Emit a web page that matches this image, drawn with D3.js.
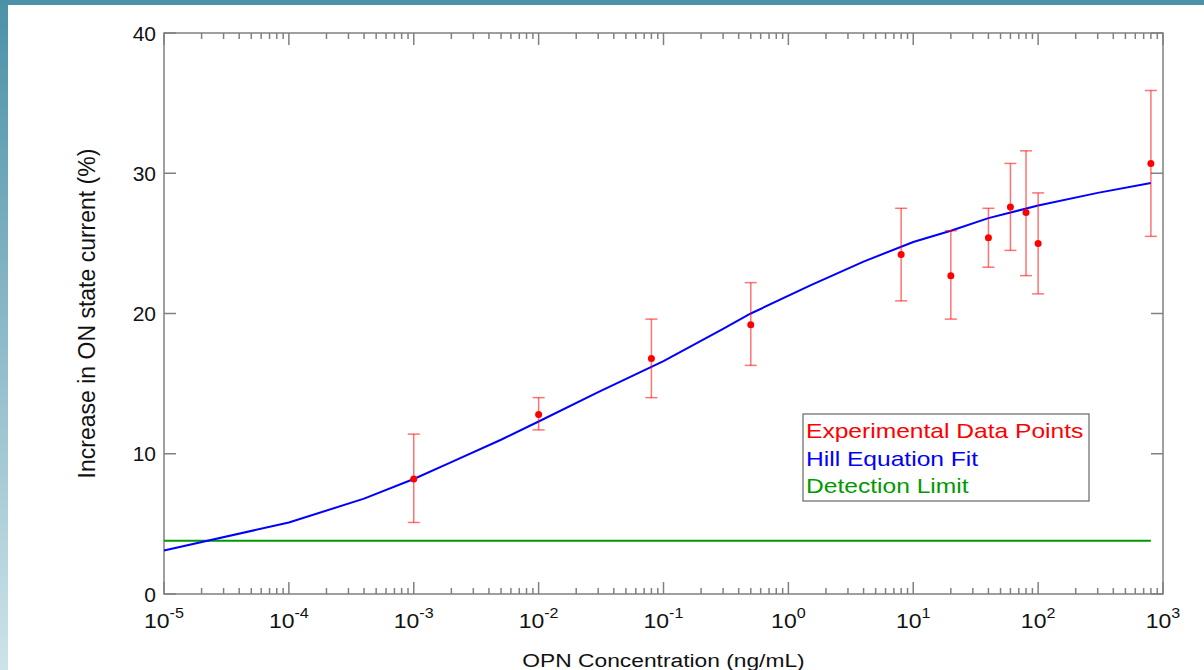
<!DOCTYPE html>
<html>
<head>
<meta charset="utf-8">
<script src="https://cdn.jsdelivr.net/npm/d3@7"></script>
<style>
  body { margin: 0; background: #fff; }
  text { font-family: "Liberation Sans", Arial, sans-serif; }
</style>
</head>
<body>
<svg id="chart" width="1204" height="670"></svg>
<script>
var concentrations = [0.001, 0.01, 0.08, 0.5, 8, 20, 40, 60, 80, 100, 800],
    responses = [8.2, 12.8, 16.8, 19.2, 24.2, 22.7, 25.4, 27.6, 27.2, 25.0, 30.7],
    errLow = [5.1, 11.7, 14.0, 16.3, 20.9, 19.6, 23.3, 24.5, 22.7, 21.4, 25.5],
    errHigh = [11.4, 14.0, 19.6, 22.2, 27.5, 25.9, 27.5, 30.7, 31.6, 28.6, 35.9];

var fitX = [1e-5, 1e-4, 4e-4, 1e-3, 2e-3, 5e-3, 1e-2, 3e-2, 0.1, 0.3, 0.5, 1.5, 4, 10, 20, 40, 100, 300, 800],
    fitY = [3.1, 5.1, 6.8, 8.2, 9.4, 11.0, 12.3, 14.4, 16.6, 18.9, 20.0, 22.0, 23.7, 25.1, 25.9, 26.8, 27.7, 28.6, 29.3];

var detectionLimit = 3.8,
    detectionRange = [1e-5, 800];

var yTicks = [0, 10, 20, 30, 40],
    xExponents = [-5, -4, -3, -2, -1, 0, 1, 2, 3],
    legendLabels = ["Experimental Data Points", "Hill Equation Fit", "Detection Limit"],
    legendColors = ["#ff0000", "#0000ff", "#009900"];

(function() {
var pL = 164, pR = 1163, pT = 33, pB = 594;

var svg = d3.select("#chart");

// slide border
var defs = svg.append("defs");
var grad = defs.append("linearGradient")
    .attr("id", "side")
    .attr("x1", 0).attr("y1", 0).attr("x2", 0).attr("y2", 1);
grad.append("stop").attr("offset", "0%").attr("stop-color", "#4b91a8");
grad.append("stop").attr("offset", "100%").attr("stop-color", "#cde3e9");
svg.append("rect").attr("x", 0).attr("y", 0).attr("width", 1204).attr("height", 5).attr("fill", "#4b92a8");
svg.append("rect").attr("x", 0).attr("y", 0).attr("width", 8).attr("height", 670).attr("fill", "url(#side)");

var x = d3.scaleLog().domain([1e-5, 1e3]).range([pL, pR]);
var y = d3.scaleLinear().domain([0, 40]).range([pB, pT]);

var axisColor = "#808080";

// text in the source looks a bit wide, so squeeze it in through a scale
function label(parent, px, py, size, anchor, stretch) {
  return parent.append("g")
      .attr("transform", "translate(" + px + "," + py + ") scale(" + stretch + ",1)")
    .append("text")
      .attr("text-anchor", anchor)
      .attr("font-size", size)
      .attr("fill", "#111");
}

// minor + major ticks on log axis, top and bottom
var minor = [];
xExponents.slice(0, -1).forEach(function(e) {
  for (var k = 2; k <= 9; k++) minor.push(k * Math.pow(10, e));
});
var majors = xExponents.map(function(e) { return Math.pow(10, e); });

var g = svg.append("g");

[pB, pT].forEach(function(yy) {
  var dir = yy === pB ? -1 : 1;
  g.selectAll(null).data(minor).enter().append("line")
      .attr("x1", function(d) { return x(d); })
      .attr("x2", function(d) { return x(d); })
      .attr("y1", yy)
      .attr("y2", yy + dir * 6)
      .attr("stroke", axisColor)
      .attr("stroke-width", 1.5);
  g.selectAll(null).data(majors).enter().append("line")
      .attr("x1", function(d) { return x(d); })
      .attr("x2", function(d) { return x(d); })
      .attr("y1", yy)
      .attr("y2", yy + dir * 12)
      .attr("stroke", axisColor)
      .attr("stroke-width", 1.5);
});

[pL, pR].forEach(function(xx) {
  var dir = xx === pL ? 1 : -1;
  g.selectAll(null).data(yTicks).enter().append("line")
      .attr("x1", xx)
      .attr("x2", xx + dir * 12)
      .attr("y1", function(d) { return y(d); })
      .attr("y2", function(d) { return y(d); })
      .attr("stroke", axisColor)
      .attr("stroke-width", 1.5);
});

g.append("rect")
    .attr("x", pL).attr("y", pT)
    .attr("width", pR - pL).attr("height", pB - pT)
    .attr("fill", "none")
    .attr("stroke", axisColor)
    .attr("stroke-width", 1.5);

// tick labels
yTicks.forEach(function(d) {
  label(g, pL - 8, y(d) + 7.5, 21, "end", 1).text(d);
});

xExponents.forEach(function(d) {
  var t = label(g, x(Math.pow(10, d)), pB + 34, 20, "middle", 1.15);
  t.append("tspan").text("10");
  t.append("tspan")
      .attr("font-size", 14)
      .attr("dy", -10)
      .text(d < 0 ? "-" + (-d) : d);
});

// axis titles
label(svg, (pL + pR) / 2, 667, 19, "middle", 1.2).text("OPN Concentration (ng/mL)");

svg.append("text")
    .attr("transform", "translate(95," + ((pT + pB) / 2) + ") rotate(-90)")
    .attr("text-anchor", "middle")
    .attr("font-size", 23)
    .attr("fill", "#111")
    .text("Increase in ON state current (%)");

// detection limit
g.append("line")
    .attr("x1", x(detectionRange[0]))
    .attr("x2", x(detectionRange[1]))
    .attr("y1", y(detectionLimit))
    .attr("y2", y(detectionLimit))
    .attr("stroke", "#009900")
    .attr("stroke-width", 2);

// hill fit
var fit = fitX.map(function(d, i) { return [d, fitY[i]]; });
g.append("path")
    .datum(fit)
    .attr("fill", "none")
    .attr("stroke", "#0000ff")
    .attr("stroke-width", 2)
    .attr("d", d3.line()
      .x(function(d) { return x(d[0]); })
      .y(function(d) { return y(d[1]); }));

// error bars
var pts = concentrations.map(function(c, i) {
  return {c: c, v: responses[i], lo: errLow[i], hi: errHigh[i]};
});
var eb = g.selectAll("g.err").data(pts).enter().append("g")
    .attr("class", "err")
    .attr("stroke", "#ff0000")
    .attr("stroke-opacity", 0.55)
    .attr("stroke-width", 1.5);
eb.append("line")
    .attr("x1", function(d) { return x(d.c); })
    .attr("x2", function(d) { return x(d.c); })
    .attr("y1", function(d) { return y(d.lo); })
    .attr("y2", function(d) { return y(d.hi); });
["lo", "hi"].forEach(function(k) {
  eb.append("line")
      .attr("x1", function(d) { return x(d.c) - 6; })
      .attr("x2", function(d) { return x(d.c) + 6; })
      .attr("y1", function(d) { return y(d[k]); })
      .attr("y2", function(d) { return y(d[k]); });
});
g.selectAll("circle.pt").data(pts).enter().append("circle")
    .attr("class", "pt")
    .attr("cx", function(d) { return x(d.c); })
    .attr("cy", function(d) { return y(d.v); })
    .attr("r", 3.5)
    .attr("fill", "#ff0000");

// legend
var lg = svg.append("g").attr("transform", "translate(803,414)");
lg.append("rect")
    .attr("width", 286).attr("height", 87)
    .attr("fill", "#fff")
    .attr("stroke", "#666")
    .attr("stroke-width", 1.2);
legendLabels.forEach(function(d, i) {
  label(lg, 3, 24 + i * 27.5, 20.5, "start", 1.2)
      .attr("fill", legendColors[i])
      .text(d);
});
})();
</script>
</body>
</html>
